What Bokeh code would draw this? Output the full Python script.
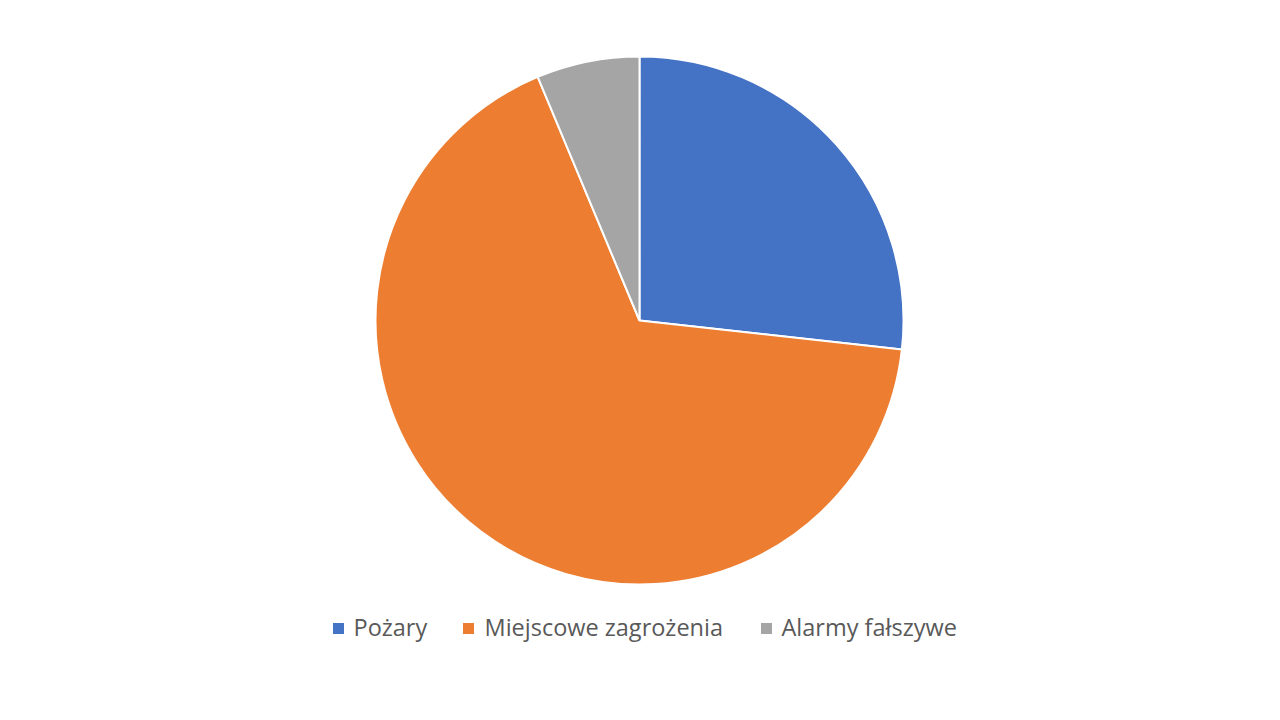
import numpy as np
from bokeh.plotting import figure
from bokeh.models import ColumnDataSource, Range1d
from bokeh.core.properties import value
from bokeh.embed import file_html
from bokeh.resources import INLINE

# udzial rodzajow zdarzen (w procentach)
kategorie = ["Pożary", "Miejscowe zagrożenia", "Alarmy fałszywe"]
wartosci = [26.75, 66.95, 6.30]
kolory = ["#4472C4", "#ED7D31", "#A5A5A5"]

W, H = 1264, 704
cx, cy, r = 639, 384, 264

frac = np.array(wartosci) / sum(wartosci)
ends = np.cumsum(frac) * 2 * np.pi
starts = np.concatenate([[0], ends[:-1]])

src = ColumnDataSource(dict(
    kat=kategorie, col=kolory,
    start=np.pi / 2 - starts, end=np.pi / 2 - ends,
))

p = figure(width=W, height=H, output_backend="svg", toolbar_location=None,
           x_range=Range1d(0, W), y_range=Range1d(0, H), min_border=0)
p.axis.visible = False
p.grid.visible = False
p.outline_line_color = None

p.wedge(x=cx, y=cy, radius=r, start_angle="start", end_angle="end",
        direction="clock", fill_color="col", line_color="white",
        line_width=2, source=src)

# legenda pod wykresem
lx_sq = [338, 468, 766]
lx_txt = [353, 484, 781]
ly = 704 - 628
leg = ColumnDataSource(dict(xs=lx_sq, xt=lx_txt, kat=kategorie, col=kolory))
p.rect(x="xs", y=ly, width=11, height=11, fill_color="col", line_color=None, source=leg)
p.text(x="xt", y=ly, text="kat", text_font=value("Open Sans"), text_font_size="23.5px",
       text_color="#595959", text_baseline="middle", y_offset=-2, source=leg)

open("out.html", "w").write(file_html(p, INLINE))
